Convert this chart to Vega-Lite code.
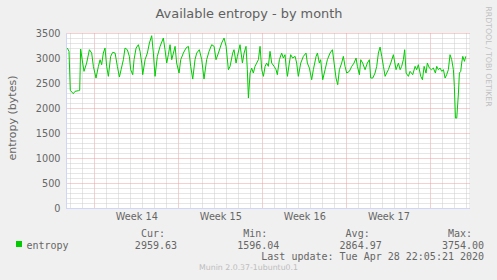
{
  "$schema": "https://vega.github.io/schema/vega-lite/v6.json",
  "width": 403,
  "height": 175,
  "autosize": "none",
  "padding": {"left": 66, "top": 33, "right": 28, "bottom": 72},
  "background": "#f0f0f0",
  "view": {"fill": "#ffffff", "stroke": null},
  "title": {"text": "Munin 2.0.37-1ubuntu0.1", "orient": "bottom", "anchor": "middle", "dx": -19, "offset": 2, "font": "DejaVu Sans", "fontSize": 7.8, "fontWeight": "normal", "color": "#bdbdbd", "baseline": "top"},
  "data": {"values": [
    {"d": -2.25, "v": 3199}, {"d": -2.11, "v": 3133}, {"d": -2.0, "v": 2353}, {"d": -1.75, "v": 2286}, {"d": -1.61, "v": 2333},
    {"d": -1.33, "v": 2346}, {"d": -1.22, "v": 2353}, {"d": -1.14, "v": 3179}, {"d": -0.97, "v": 2899}, {"d": -0.86, "v": 2733},
    {"d": -0.64, "v": 2899}, {"d": -0.41, "v": 3166}, {"d": -0.22, "v": 3099}, {"d": -0.08, "v": 2833}, {"d": 0.14, "v": 2599},
    {"d": 0.34, "v": 2833}, {"d": 0.48, "v": 2966}, {"d": 0.61, "v": 2866}, {"d": 0.75, "v": 3099}, {"d": 0.89, "v": 3199},
    {"d": 1.03, "v": 2833}, {"d": 1.17, "v": 2633}, {"d": 1.36, "v": 3033}, {"d": 1.53, "v": 3113}, {"d": 1.73, "v": 3099},
    {"d": 1.92, "v": 2833}, {"d": 2.09, "v": 2619}, {"d": 2.23, "v": 2766}, {"d": 2.42, "v": 2966}, {"d": 2.56, "v": 3199},
    {"d": 2.75, "v": 3166}, {"d": 2.92, "v": 3033}, {"d": 3.03, "v": 2766}, {"d": 3.2, "v": 2666}, {"d": 3.31, "v": 2966},
    {"d": 3.48, "v": 3199}, {"d": 3.67, "v": 3266}, {"d": 3.81, "v": 3133}, {"d": 3.95, "v": 2899}, {"d": 4.03, "v": 2666},
    {"d": 4.23, "v": 2966}, {"d": 4.42, "v": 3099}, {"d": 4.59, "v": 3299}, {"d": 4.78, "v": 3446}, {"d": 4.92, "v": 3099},
    {"d": 5.06, "v": 2633}, {"d": 5.25, "v": 3033}, {"d": 5.48, "v": 3233}, {"d": 5.75, "v": 3399}, {"d": 5.89, "v": 3166},
    {"d": 6.03, "v": 2899}, {"d": 6.17, "v": 3066}, {"d": 6.31, "v": 3266}, {"d": 6.45, "v": 2966}, {"d": 6.59, "v": 3099},
    {"d": 6.73, "v": 3233}, {"d": 6.86, "v": 2899}, {"d": 7.06, "v": 2699}, {"d": 7.2, "v": 2966}, {"d": 7.42, "v": 3099},
    {"d": 7.64, "v": 3199}, {"d": 7.84, "v": 3233}, {"d": 8.03, "v": 2833}, {"d": 8.2, "v": 2579}, {"d": 8.39, "v": 2966},
    {"d": 8.53, "v": 3099}, {"d": 8.75, "v": 3166}, {"d": 8.95, "v": 2966}, {"d": 9.14, "v": 2579}, {"d": 9.36, "v": 2966},
    {"d": 9.56, "v": 3133}, {"d": 9.78, "v": 3266}, {"d": 9.98, "v": 3233}, {"d": 10.14, "v": 2966}, {"d": 10.34, "v": 3099},
    {"d": 10.61, "v": 3299}, {"d": 10.81, "v": 3399}, {"d": 10.98, "v": 3233}, {"d": 11.17, "v": 2766}, {"d": 11.31, "v": 2833},
    {"d": 11.53, "v": 3099}, {"d": 11.64, "v": 3166}, {"d": 11.81, "v": 2899}, {"d": 11.92, "v": 3033}, {"d": 12.14, "v": 3266},
    {"d": 12.34, "v": 2899}, {"d": 12.48, "v": 3099}, {"d": 12.64, "v": 3233}, {"d": 12.75, "v": 2766}, {"d": 12.84, "v": 2199},
    {"d": 12.98, "v": 2699}, {"d": 13.11, "v": 2799}, {"d": 13.25, "v": 2699}, {"d": 13.39, "v": 2833}, {"d": 13.53, "v": 2899},
    {"d": 13.67, "v": 2966}, {"d": 13.81, "v": 3233}, {"d": 13.95, "v": 2766}, {"d": 14.09, "v": 2633}, {"d": 14.23, "v": 2833},
    {"d": 14.36, "v": 2899}, {"d": 14.5, "v": 2833}, {"d": 14.64, "v": 3133}, {"d": 14.78, "v": 2899}, {"d": 14.98, "v": 2833},
    {"d": 15.14, "v": 2766}, {"d": 15.25, "v": 2666}, {"d": 15.42, "v": 2966}, {"d": 15.61, "v": 3099}, {"d": 15.75, "v": 2999},
    {"d": 15.89, "v": 3066}, {"d": 15.98, "v": 2833}, {"d": 16.09, "v": 2633}, {"d": 16.25, "v": 2899}, {"d": 16.36, "v": 3066},
    {"d": 16.53, "v": 2999}, {"d": 16.73, "v": 3033}, {"d": 16.86, "v": 2899}, {"d": 17.0, "v": 2633}, {"d": 17.2, "v": 2899},
    {"d": 17.42, "v": 3033}, {"d": 17.64, "v": 3099}, {"d": 17.75, "v": 2899}, {"d": 17.92, "v": 2799}, {"d": 18.11, "v": 2566},
    {"d": 18.25, "v": 2766}, {"d": 18.48, "v": 3033}, {"d": 18.59, "v": 3099}, {"d": 18.75, "v": 2899}, {"d": 18.86, "v": 2966},
    {"d": 19.03, "v": 2566}, {"d": 19.23, "v": 2766}, {"d": 19.42, "v": 2966}, {"d": 19.64, "v": 3099}, {"d": 19.84, "v": 3166},
    {"d": 19.98, "v": 2899}, {"d": 20.14, "v": 2599}, {"d": 20.28, "v": 2466}, {"d": 20.42, "v": 2766}, {"d": 20.61, "v": 2899},
    {"d": 20.75, "v": 3033}, {"d": 20.89, "v": 2833}, {"d": 21.03, "v": 2699}, {"d": 21.25, "v": 2733}, {"d": 21.45, "v": 2833},
    {"d": 21.64, "v": 2899}, {"d": 21.81, "v": 2999}, {"d": 21.92, "v": 2833}, {"d": 22.09, "v": 2666}, {"d": 22.2, "v": 2966},
    {"d": 22.36, "v": 2899}, {"d": 22.56, "v": 2766}, {"d": 22.75, "v": 2899}, {"d": 22.92, "v": 2966}, {"d": 23.03, "v": 2599},
    {"d": 23.2, "v": 2599}, {"d": 23.39, "v": 2699}, {"d": 23.53, "v": 2833}, {"d": 23.67, "v": 3099}, {"d": 23.81, "v": 3219},
    {"d": 23.95, "v": 3033}, {"d": 24.09, "v": 2833}, {"d": 24.23, "v": 2633}, {"d": 24.36, "v": 2699}, {"d": 24.5, "v": 2766},
    {"d": 24.7, "v": 2899}, {"d": 24.92, "v": 3066}, {"d": 25.14, "v": 2766}, {"d": 25.34, "v": 2899}, {"d": 25.48, "v": 2766},
    {"d": 25.61, "v": 2833}, {"d": 25.75, "v": 2966}, {"d": 25.86, "v": 3166}, {"d": 25.98, "v": 2699}, {"d": 26.17, "v": 2633},
    {"d": 26.31, "v": 2733}, {"d": 26.53, "v": 2666}, {"d": 26.73, "v": 2833}, {"d": 26.86, "v": 2766}, {"d": 27.0, "v": 2866},
    {"d": 27.2, "v": 2633}, {"d": 27.34, "v": 2566}, {"d": 27.48, "v": 2833}, {"d": 27.64, "v": 2699}, {"d": 27.75, "v": 2899},
    {"d": 27.92, "v": 2799}, {"d": 28.09, "v": 2766}, {"d": 28.25, "v": 2799}, {"d": 28.42, "v": 2699}, {"d": 28.53, "v": 2833},
    {"d": 28.67, "v": 2766}, {"d": 28.81, "v": 2799}, {"d": 28.95, "v": 2733}, {"d": 29.09, "v": 2766}, {"d": 29.23, "v": 2599},
    {"d": 29.36, "v": 2666}, {"d": 29.5, "v": 2766}, {"d": 29.64, "v": 3066}, {"d": 29.78, "v": 2966}, {"d": 29.92, "v": 2766},
    {"d": 30.0, "v": 2433}, {"d": 30.09, "v": 1799}, {"d": 30.2, "v": 1799}, {"d": 30.34, "v": 2299}, {"d": 30.42, "v": 2699},
    {"d": 30.53, "v": 2733}, {"d": 30.61, "v": 2899}, {"d": 30.7, "v": 3033}, {"d": 30.84, "v": 2933}, {"d": 30.95, "v": 3033}
  ]},
  "layer": [
    {
      "mark": {"type": "line", "color": "#00cc00", "strokeWidth": 1, "interpolate": "linear"},
      "encoding": {
        "x": {
          "field": "d", "type": "quantitative",
          "scale": {"domain": [-2.36, 31.22], "nice": false, "zero": false},
          "axis": {
            "orient": "bottom",
            "values": [-2, -1, 0, 1, 2, 3, 4, 5, 6, 7, 8, 9, 10, 11, 12, 13, 14, 15, 16, 17, 18, 19, 20, 21, 22, 23, 24, 25, 26, 27, 28, 29, 30, 31, 3.5, 10.5, 17.5, 24.5],
            "labelExpr": "datum.value % 1 !== 0 ? 'Week ' + (14 + floor(datum.value / 7)) : ''",
            "labelOverlap": false, "labelFlush": false, "labelBound": false,
            "labelFont": "DejaVu Sans", "labelFontSize": 9.7, "labelColor": "#666666", "labelPadding": 3,
            "ticks": false,
            "domainColor": "#cfd6f8", "domainWidth": 1,
            "grid": true,
            "gridColor": {"condition": {"test": "datum.value % 7 === 0", "value": "#eba0a0"}, "value": "#cccccc"},
            "gridOpacity": {"condition": {"test": "datum.value % 1 !== 0", "value": 0}, "value": 1},
            "gridDash": [1, 1], "gridWidth": 1,
            "title": [
              "\u200b\u00a0\u00a0\u00a0\u00a0\u00a0\u00a0\u00a0\u00a0\u00a0\u00a0\u00a0\u00a0\u00a0\u00a0\u00a0\u00a0\u00a0\u00a0\u00a0Cur:\u00a0\u00a0\u00a0\u00a0\u00a0\u00a0\u00a0\u00a0\u00a0\u00a0\u00a0\u00a0\u00a0Min:\u00a0\u00a0\u00a0\u00a0\u00a0\u00a0\u00a0\u00a0\u00a0\u00a0\u00a0\u00a0\u00a0Avg:\u00a0\u00a0\u00a0\u00a0\u00a0\u00a0\u00a0\u00a0\u00a0\u00a0\u00a0\u00a0\u00a0Max:",
              "entropy\u00a0\u00a0\u00a0\u00a0\u00a0\u00a0\u00a0\u00a0\u00a0\u00a0\u00a02959.63\u00a0\u00a0\u00a0\u00a0\u00a0\u00a0\u00a0\u00a0\u00a0\u00a01596.04\u00a0\u00a0\u00a0\u00a0\u00a0\u00a0\u00a0\u00a0\u00a0\u00a02864.97\u00a0\u00a0\u00a0\u00a0\u00a0\u00a0\u00a0\u00a0\u00a0\u00a03754.00",
              "\u200b\u00a0\u00a0\u00a0\u00a0\u00a0\u00a0\u00a0\u00a0\u00a0\u00a0\u00a0\u00a0\u00a0\u00a0\u00a0\u00a0\u00a0\u00a0\u00a0\u00a0\u00a0\u00a0\u00a0\u00a0\u00a0\u00a0\u00a0\u00a0\u00a0\u00a0\u00a0\u00a0\u00a0\u00a0\u00a0\u00a0\u00a0\u00a0\u00a0Last update: Tue Apr 28 22:05:21 2020"
            ],
            "titleFont": "DejaVu Sans Mono", "titleFontSize": 10, "titleFontWeight": "normal", "titleColor": "#666666",
            "titleAlign": "left", "titleAnchor": "start", "titleX": -40, "titleY": 28.5, "titleBaseline": "alphabetic", "titleLineHeight": 11.5
          }
        },
        "y": {
          "field": "v", "type": "quantitative",
          "scale": {"domain": [0, 3500], "nice": false, "zero": true},
          "axis": {
            "values": [0, 100, 200, 300, 400, 500, 600, 700, 800, 900, 1000, 1100, 1200, 1300, 1400, 1500, 1600, 1700, 1800, 1900, 2000, 2100, 2200, 2300, 2400, 2500, 2600, 2700, 2800, 2900, 3000, 3100, 3200, 3300, 3400, 3500],
            "format": "d",
            "labelExpr": "datum.value % 500 === 0 ? datum.label : ''",
            "labelOverlap": false, "labelFlush": false, "labelBound": false,
            "labelFont": "DejaVu Sans", "labelFontSize": 9.7, "labelColor": "#666666", "labelPadding": 6,
            "ticks": false,
            "domainColor": "#cfd6f8", "domainWidth": 1,
            "grid": true,
            "gridColor": {"condition": {"test": "datum.value % 500 === 0", "value": "#eba0a0"}, "value": "#cccccc"},
            "gridDash": [1, 1], "gridWidth": 1,
            "title": "entropy (bytes)",
            "titleFont": "DejaVu Sans", "titleFontSize": 11, "titleFontWeight": "normal", "titleColor": "#666666",
            "titleAngle": 270, "titleX": -51, "titleY": 84.5, "titleAlign": "center", "titleBaseline": "alphabetic"
          }
        },
        "color": {
          "datum": "entropy",
          "scale": {"range": ["#00cc00"]},
          "legend": {
            "orient": "none", "legendX": -52, "legendY": 206, "title": null, "padding": 0,
            "symbolType": "square", "symbolSize": 36, "symbolFillColor": "#00cc00", "symbolStrokeColor": "#00cc00", "symbolStrokeWidth": 0,
            "labelExpr": "''", "labelFont": "DejaVu Sans Mono", "labelFontSize": 10, "labelColor": "#666666", "labelOffset": 6,
            "encode": {"symbols": {"update": {"fill": {"value": "#00cc00"}, "strokeWidth": {"value": 0}}}}
          }
        }
      }
    },
    {
      "mark": {"type": "line", "opacity": 0},
      "encoding": {
        "x": {
          "field": "d", "type": "quantitative",
          "scale": {"domain": [-2.36, 31.22], "nice": false, "zero": false},
          "axis": {
            "orient": "top", "domain": false, "ticks": false, "labels": false, "grid": false,
            "title": "Available entropy - by month",
            "titleFont": "DejaVu Sans", "titleFontSize": 12.9, "titleFontWeight": "normal", "titleColor": "#606060",
            "titleAlign": "center", "titleX": 182.5, "titleY": -15.5, "titleBaseline": "alphabetic"
          }
        },
        "y": {
          "field": "v", "type": "quantitative",
          "scale": {"domain": [0, 3500], "nice": false, "zero": true},
          "axis": {
            "orient": "right", "domain": false, "ticks": false, "labels": false, "grid": false,
            "title": "RRDTOOL / TOBI OETIKER",
            "titleFont": "DejaVu Sans", "titleFontSize": 7.8, "titleFontWeight": "normal", "titleColor": "#c0c0c0",
            "titleAngle": 90, "titleX": 18, "titleY": 23, "titleAlign": "center", "titleBaseline": "middle"
          }
        }
      }
    }
  ],
  "resolve": {"axis": {"x": "independent", "y": "independent"}}
}
